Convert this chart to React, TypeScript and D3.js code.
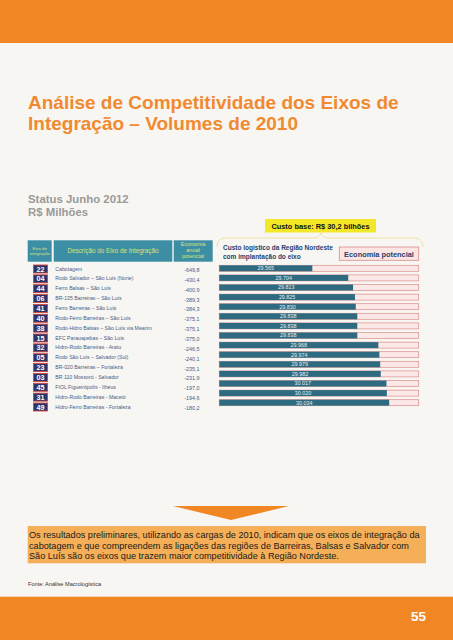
import React from "react";
import * as d3 from "d3";

const eixoIds = ["22","04","44","06","41","40","38","15","32","05","23","03","45","31","49"];
const descricoes = [
  "Cabotagem",
  "Rodo Salvador – São Luís (Norte)",
  "Ferro Balsas – São Luís",
  "BR-135 Barreiras – São Luís",
  "Ferro Barreiras – São Luís",
  "Rodo-Ferro Barreiras – São Luís",
  "Rodo-Hidro Balsas – São Luís via Mearim",
  "EFC Parauapebas – São Luís",
  "Hidro-Rodo Barreiras - Aratu",
  "Rodo São Luís – Salvador (Sul)",
  "BR-020 Barreiras – Fortaleza",
  "BR 110 Mossoró - Salvador",
  "FIOL Figueirópolis - Ilhéus",
  "Hidro-Rodo Barreiras - Maceió",
  "Hidro-Ferro Barreiras - Fortaleza",
];
const economia = [-649.8,-430.4,-400.9,-389.3,-384.3,-375.1,-375.1,-375.0,-246.5,-240.1,-235.1,-231.9,-197.0,-194.6,-180.2];
const custoLabels = ["29.565","29.704","29.813","29.825","29.830","29.838","29.838","29.838","29.968","29.974","29.979","29.982","30.017","30.020","30.034"];
const economiaDomain = [-1218, 0];

const ORANGE = "#F18624";
const BG = "#F8F6F2";
const TEAL = "#3C8EA4";
const DARK = "#2E6B80";
const NAVY = "#2B3468";
const RED = "#D5453D";
const TXT = "#4A5C86";
const FONT = "'Liberation Sans', Arial, sans-serif";

export default function App() {
  const rowY = d3.scalePoint<string>().domain(eixoIds.map((d, i) => i + "")).range([269, 407]);
  const barY = d3.scalePoint<string>().domain(eixoIds.map((d, i) => i + "")).range([268.3, 402.7]);
  const x = d3.scaleLinear().domain(economiaDomain).range([219.3, 418.7]);
  const fmt = (v: number) => d3.format(".1f")(v).replace(".", ",").replace("−", "-");
  const barH = 6;

  return (
    <svg width={453} height={640} style={{ position: "absolute", left: 0, top: 0 }} fontFamily={FONT}>
      <rect width={453} height={640} fill={BG} />
      <rect x={0} y={0} width={453} height={43} fill={ORANGE} />
      <text x={28} y={109} fontSize={19} fontWeight="bold" fill="#F08A30">Análise de Competitividade dos Eixos de</text>
      <text x={28} y={130} fontSize={19} fontWeight="bold" fill="#F08A30">Integração – Volumes de 2010</text>
      <text x={28} y={203} fontSize={11.4} fontWeight="bold" fill="#9A9A9A">Status Junho 2012</text>
      <text x={28} y={216} fontSize={11.4} fontWeight="bold" fill="#9A9A9A">R$ Milhões</text>

      {/* yellow custo base */}
      <rect x={265} y={219} width={111} height={13.5} fill="#F3E827" />
      <text x={320.5} y={228.6} fontSize={7.4} fontWeight="bold" fill="#111" textAnchor="middle">Custo base: R$ 30,2 bilhões</text>
      <path d="M217,247 Q217,238 226,238 L314,238 Q319,238 321,233 Q323,238 328,238 L414,238 Q423,238 423,247" fill="none" stroke="#EFE2A2" strokeWidth={1} />

      {/* table header */}
      <rect x={27.7} y={240.3} width={24} height={21.4} fill={TEAL} />
      <rect x={53.7} y={240.3} width={118.6} height={21.4} fill={TEAL} />
      <rect x={173.7} y={240.3} width={39} height={21.4} fill={TEAL} />
      <text x={39.7} y={249.5} fontSize={4.3} fill="#DCE27A" textAnchor="middle">Eixo de</text>
      <text x={39.7} y={254.5} fontSize={4.3} fill="#DCE27A" textAnchor="middle">integração</text>
      <text x={113} y={253} fontSize={6.3} fill="#DCE27A" textAnchor="middle">Descrição do Eixo de Integração</text>
      <text x={193} y={246} fontSize={5.5} fill="#DCE27A" textAnchor="middle">Economia</text>
      <text x={193} y={252} fontSize={5.5} fill="#DCE27A" textAnchor="middle">anual</text>
      <text x={193} y={258} fontSize={5.5} fill="#DCE27A" textAnchor="middle">potencial</text>

      {eixoIds.map((id, i) => {
        const cy = rowY(i + "")!;
        return (
          <g key={id + i}>
            <rect x={33.5} y={cy - 4} width={14} height={8} fill={NAVY} stroke={RED} strokeWidth={0.9} />
            <text x={40.5} y={cy + 2.6} fontSize={7.2} fontWeight="bold" fill="#fff" textAnchor="middle">{id}</text>
            <text x={55.3} y={cy + 1.6} fontSize={5.2} fill={TXT}>{descricoes[i]}</text>
            <text x={184.3} y={cy + 3} fontSize={5.4} fill={TXT}>{fmt(economia[i])}</text>
          </g>
        );
      })}

      {/* legend */}
      <text x={223} y={250.3} fontSize={6.5} fontWeight="bold" fill="#2A3F6E">Custo logístico da Região Nordeste</text>
      <text x={223} y={258.7} fontSize={6.5} fontWeight="bold" fill="#2A3F6E">com implantação do eixo</text>
      <rect x={339.3} y={247} width={79.4} height={13.3} fill="#FCE6E4" stroke="#D98C8A" strokeWidth={0.8} />
      <text x={379} y={256.5} fontSize={7.4} fontWeight="bold" fill="#2A3F6E" textAnchor="middle">Economia potencial</text>

      {economia.map((v, i) => {
        const cy = barY(i + "")!;
        const x0 = x(economiaDomain[0]);
        const xe = x(v);
        const x1 = x(0);
        return (
          <g key={"b" + i}>
            <rect x={x0} y={cy - barH / 2} width={x1 - x0} height={barH} fill="#FCE9E7" stroke="#D98C8A" strokeWidth={0.7} />
            <rect x={x0} y={cy - barH / 2} width={xe - x0} height={barH} fill={DARK} />
            <text x={(x0 + xe) / 2} y={cy + 1.9} fontSize={5.4} fill="#E4EEF3" textAnchor="middle">{custoLabels[i]}</text>
          </g>
        );
      })}

      {/* bottom */}
      <path d="M173,506 L289,506 L231,520 Z" fill={ORANGE} />
      <rect x={27.7} y={526} width={398.3} height={37.3} fill="#F5AF58" />
      <text x={29} y={538} fontSize={9.15} fill="#1a1a1a">Os resultados preliminares, utilizando as cargas de 2010, indicam que os eixos de integração da</text>
      <text x={29} y={548.5} fontSize={9.15} fill="#1a1a1a">cabotagem e que compreendem as ligações das regiões de Barreiras, Balsas e Salvador com</text>
      <text x={29} y={559} fontSize={9.15} fill="#1a1a1a">São Luís são os eixos que trazem maior competitividade à Região Nordeste.</text>
      <text x={28} y={586} fontSize={5.6} fill="#333">Fonte: Análise Macrologística</text>
      <rect x={0} y={596.7} width={453} height={43.3} fill={ORANGE} />
      <text x={426} y={621} fontSize={13.5} fontWeight="bold" fill="#fff" textAnchor="end">55</text>
    </svg>
  );
}
